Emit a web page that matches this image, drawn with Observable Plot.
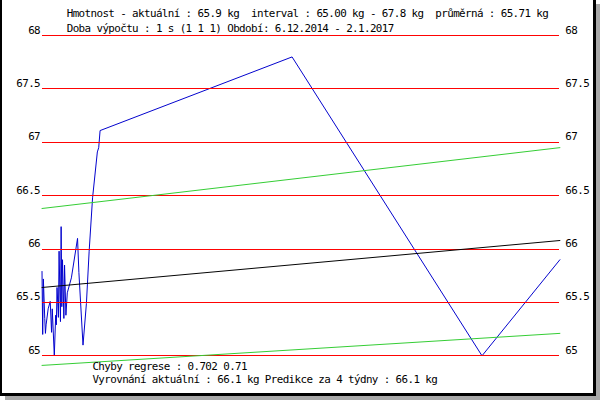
<!DOCTYPE html>
<html>
<head>
<meta charset="utf-8">
<script src="https://cdn.jsdelivr.net/npm/d3@7"></script>
<script src="https://cdn.jsdelivr.net/npm/@observablehq/plot@0.6"></script>
<style>
  body { margin: 0; background: #fff; }
  #wrap { position: relative; width: 600px; height: 400px; overflow: hidden; background: #fff; }
  #shadow { position: absolute; left: 5px; top: 4px; width: 595px; height: 396px; background: #a8a8a8; }
  #box { position: absolute; left: 0; top: 0; width: 591px; height: 393px; background: #fff;
         border-left: 2px solid #000; border-right: 3px solid #000; border-bottom: 3px solid #000; overflow: hidden; }
  #chart { position: absolute; left: -2px; top: 0; }
  #chart svg text { letter-spacing: -0.6px; }
</style>
</head>
<body>
<div id="wrap"><div id="shadow"></div><div id="box"><div id="chart"></div></div></div>
<script>
// merene hodnoty (datum, kg)
const dates = [
  "2014-12-06","2014-12-07","2014-12-08","2014-12-10","2014-12-11","2014-12-12",
  "2014-12-15","2014-12-18","2014-12-20","2014-12-21","2014-12-24","2014-12-26",
  "2014-12-27","2014-12-28","2014-12-30","2014-12-31","2015-01-02","2015-01-03",
  "2015-01-04","2015-01-05","2015-01-07","2015-01-08","2015-01-10","2015-01-12",
  "2015-01-18","2015-01-27","2015-01-29","2015-02-04","2015-02-09","2015-02-13",
  "2015-02-18","2015-02-25","2015-02-27","2015-03-01","2015-12-07","2016-09-10",
  "2017-01-02"
];
const weights = [
  65.79, 65.20, 65.72, 65.35, 65.21, 65.29,
  65.44, 65.51, 65.22, 65.44, 65.00, 65.38,
  65.29, 65.64, 65.36, 65.98, 65.32, 66.21,
  65.46, 65.90, 65.35, 65.85, 65.38, 65.59,
  65.73, 66.10, 65.78, 65.10, 65.49, 65.98,
  66.48, 66.91, 66.95, 67.11, 67.80, 65.00,
  65.90
];

// regrese a pas chyb (zacatek, konec)
const regDates = ["2014-12-06", "2017-01-02"];
const trend = [65.64, 66.08];
const upper = [66.38, 66.95];
const lower = [64.91, 65.21];

const yTicks = [65, 65.5, 66, 66.5, 67, 67.5, 68];

const headerLines = [
  "Hmotnost - aktuální : 65.9 kg  interval : 65.00 kg - 67.8 kg  průměrná : 65.71 kg",
  "Doba výpočtu : 1 s (1 1 1) Období: 6.12.2014 - 2.1.2017"
];
const footerLines = [
  "Chyby regrese : 0.702 0.71",
  "Vyrovnání aktuální : 66.1 kg Predikce za 4 týdny : 66.1 kg"
];

const parse = d3.utcParse("%Y-%m-%d");
const data = dates.map((d, i) => ({date: parse(d), kg: weights[i]}));
const reg = regDates.map((d, i) => ({date: parse(d), trend: trend[i], upper: upper[i], lower: lower[i]}));

let chart = Plot.plot({
  width: 600,
  height: 400,
  marginLeft: 42,
  marginRight: 34,
  marginTop: 35.5,
  marginBottom: 40.5,
  x: {type: "utc", domain: [data[0].date, data[data.length - 1].date], axis: null},
  y: {domain: [65, 68], axis: null},
  style: {
    fontFamily: "'DejaVu Sans Mono', monospace",
    fontSize: "11px",
    color: "#000",
    background: "#fff"
  },
  marks: [
    Plot.line(data, {x: "date", y: "kg", stroke: "#0000cc", strokeWidth: 1, shapeRendering: "crispEdges"}),
    Plot.ruleY(yTicks, {stroke: "#ff0000", strokeWidth: 1, shapeRendering: "crispEdges"}),
    Plot.line(reg, {x: "date", y: "upper", stroke: "#33cc33", strokeWidth: 1, shapeRendering: "crispEdges"}),
    Plot.line(reg, {x: "date", y: "lower", stroke: "#33cc33", strokeWidth: 1, shapeRendering: "crispEdges"}),
    Plot.line(reg, {x: "date", y: "trend", stroke: "#000", strokeWidth: 1, shapeRendering: "crispEdges"}),
    Plot.text(yTicks, {y: d => d, text: d => String(d), frameAnchor: "left", textAnchor: "end",
      lineAnchor: "bottom", dx: -2, dy: -2, fill: "#000"}),
    Plot.text(yTicks, {y: d => d, text: d => String(d), frameAnchor: "right", textAnchor: "start",
      lineAnchor: "bottom", dx: 5.5, dy: -2, fill: "#000"}),
    Plot.text([headerLines.join("\n")], {frameAnchor: "top-left", textAnchor: "start",
      lineAnchor: "bottom", lineHeight: 15 / 11, dx: 25, dy: -3.5, fill: "#000"}),
    Plot.text([footerLines.join("\n")], {frameAnchor: "bottom-left", textAnchor: "start",
      lineAnchor: "bottom", lineHeight: 14 / 11, dx: 51, dy: 28, fill: "#000"})
  ]
});
d3.select("#chart").append(() => chart);
</script>
</body>
</html>
